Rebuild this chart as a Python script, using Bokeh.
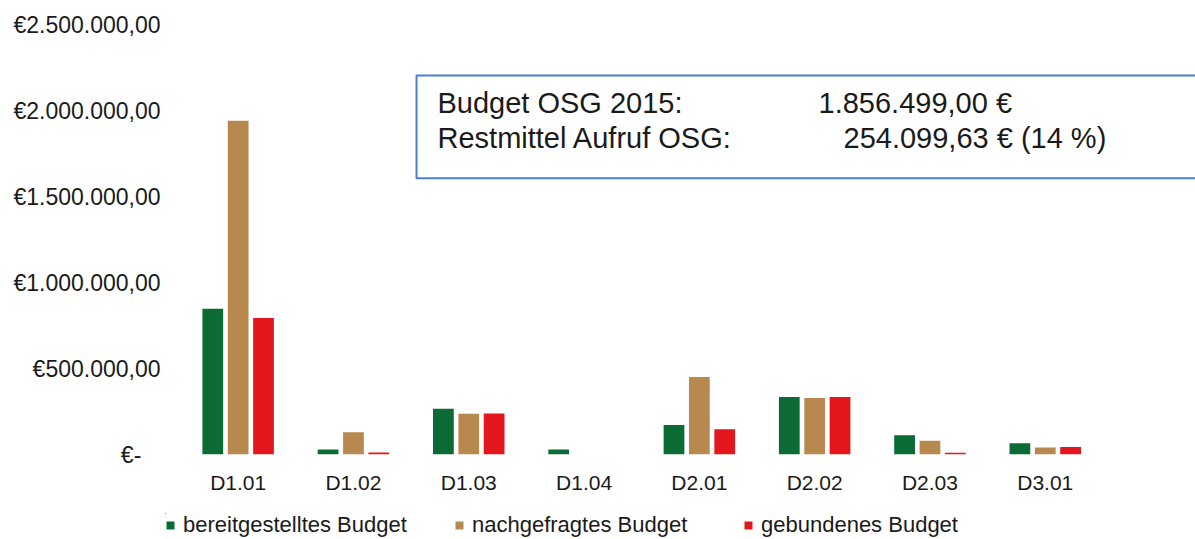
from bokeh.plotting import figure
from bokeh.layouts import column
from bokeh.models import (ColumnDataSource, FixedTicker, Legend, LegendItem,
                          BoxAnnotation, Label, Range1d)
from bokeh.transform import dodge
from bokeh.embed import file_html
from bokeh.resources import INLINE

# ---------------- data ----------------
categories = ["D1.01", "D1.02", "D1.03", "D1.04", "D2.01", "D2.02", "D2.03", "D3.01"]
bereitgestellt = [848000, 29000, 266000, 29000, 171000, 334000, 112000, 66000]
nachgefragt = [1940000, 130000, 237000, 0, 450000, 328000, 80000, 41000]
gebunden = [794000, 12000, 239000, 0, 147000, 334000, 10000, 44000]
series_names = ["bereitgestelltes Budget", "nachgefragtes Budget", "gebundenes Budget"]
y_ticks = [0, 500000, 1000000, 1500000, 2000000, 2500000]
y_tick_labels = ["€-\u2007\u2008", "€500.000,00", "€1.000.000,00", "€1.500.000,00",
                 "€2.000.000,00", "€2.500.000,00"]
info_labels = ["Budget OSG 2015:", "Restmittel Aufruf OSG:"]
info_values = ["1.856.499,00 €", "254.099,63 € (14 %)"]

# ---------------- style ----------------
FONT = "Liberation Sans"
TXT = "#1a1a1a"
colors = ["#0b6b35", "#b8894f", "#e2161c"]
offsets = [-0.22, 0.0, 0.22]
STEP = 115.3          # px per category
LEFT = 165            # frame left edge (px)

src = ColumnDataSource(dict(
    x=list(range(len(categories))),
    b=bereitgestellt, n=nachgefragt, g=gebunden,
))

x0 = -0.5 - (180 - LEFT) / STEP
p = figure(width=1195, height=513, output_backend="svg", toolbar_location=None,
           x_range=Range1d(x0, 8.303), y_range=Range1d(0, 2500000),
           min_border_left=LEFT, min_border_right=0, min_border_top=24,
           min_border_bottom=59)
p.outline_line_color = None
p.grid.grid_line_color = None
p.background_fill_color = "white"
p.border_fill_color = "white"

for col, off, c in zip(["b", "n", "g"], offsets, colors):
    p.vbar(x=dodge("x", off), top=col, width=0.18, source=src,
           fill_color=c, line_color=None)

# y axis
p.yaxis.ticker = FixedTicker(ticks=y_ticks)
p.yaxis.major_label_overrides = {t: l for t, l in zip(y_ticks, y_tick_labels)}
p.yaxis.axis_line_color = None
p.yaxis.major_tick_line_color = None
p.yaxis.minor_tick_line_color = None
p.yaxis.major_label_standoff = 14 - (180 - LEFT)
p.yaxis.major_label_text_font = FONT
p.yaxis.major_label_text_font_size = "23px"
p.yaxis.major_label_text_color = TXT

# x axis
p.xaxis.ticker = FixedTicker(ticks=list(range(len(categories))))
p.xaxis.major_label_overrides = {i: c for i, c in enumerate(categories)}
p.xaxis.axis_line_color = None
p.xaxis.major_tick_line_color = None
p.xaxis.minor_tick_line_color = None
p.xaxis.major_label_standoff = 10
p.xaxis.major_label_text_font = FONT
p.xaxis.major_label_text_font_size = "21px"
p.xaxis.major_label_text_color = TXT

# info box
box = BoxAnnotation(left=1.547, right=50, top=2203833, bottom=1605691,
                    fill_color="white", fill_alpha=1.0,
                    line_color="#4a7fd6", line_alpha=1.0, line_width=2)
p.add_layout(box)

shift = 180 - LEFT
for i, (lab, val) in enumerate(zip(info_labels, info_values)):
    ys = [351.5, 316.5][i]
    xv = [638, 663][i] + shift
    p.add_layout(Label(x=257 + shift, y=ys, x_units="screen", y_units="screen", text=lab,
                       text_font=FONT, text_font_size="29px", text_color=TXT,
                       text_baseline="alphabetic"))
    p.add_layout(Label(x=xv, y=ys, x_units="screen", y_units="screen", text=val,
                       text_font=FONT, text_font_size="29px", text_color=TXT,
                       text_baseline="alphabetic"))

# legend strip: the same series, scrolled out of view, so only the legend shows
pl = figure(width=1195, height=26, output_backend="svg", toolbar_location=None,
            x_axis_location=None, y_axis_location=None, min_border=0,
            x_range=Range1d(100, 101), y_range=Range1d(-2, -1))
pl.outline_line_color = None
pl.grid.grid_line_color = None
pl.border_fill_color = "white"
pl.background_fill_color = "white"
leg_renderers = [pl.vbar(x=dodge("x", off), top=col, width=0.18, source=src,
                         fill_color=c, line_color=None)
                 for col, off, c in zip(["b", "n", "g"], offsets, colors)]
legend = Legend(items=[LegendItem(label=n, renderers=[r])
                       for n, r in zip(series_names, leg_renderers)],
                orientation="horizontal", location=(0, 1),
                glyph_width=10, glyph_height=10, label_width=250, label_standoff=8,
                spacing=21, padding=0, margin=0, border_line_color=None,
                background_fill_alpha=0, label_text_font=FONT,
                label_text_font_size="22px", label_text_color=TXT)
pl.add_layout(legend)

layout = column(p, pl, spacing=0)
open("out.html", "w").write(file_html(layout, INLINE))
